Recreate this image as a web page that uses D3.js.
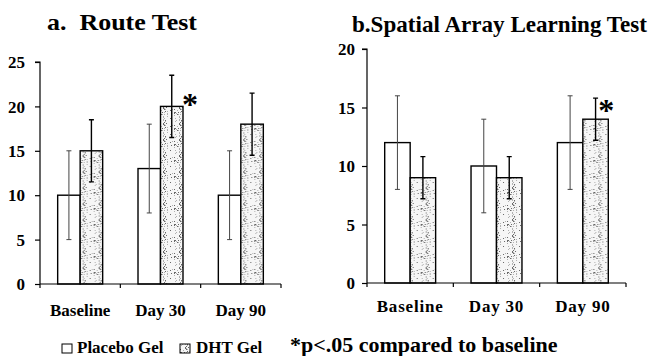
<!DOCTYPE html>
<html><head><meta charset="utf-8">
<script src="https://cdn.jsdelivr.net/npm/d3@7"></script>
</head><body style="margin:0;background:#fff">
<svg id="c" width="652" height="356"></svg>
<script>
// ---------- data ----------
const categories = ["Baseline", "Day 30", "Day 90"];
const seriesNames = ["Placebo Gel", "DHT Gel"];

const routePlacebo    = [10, 13, 10];
const routePlaceboErr = [5, 5, 5];
const routeDHT        = [15, 20, 18];
const routeDHTErr     = [3.5, 3.5, 3.5];
const routeSig        = [false, true, false];
const routeTicks      = [0, 5, 10, 15, 20, 25];

const salPlacebo    = [12, 10, 12];
const salPlaceboErr = [4, 4, 4];
const salDHT        = [9, 9, 14];
const salDHTErr     = [1.8, 1.8, 1.8];
const salSig        = [false, false, true];
const salTicks      = [0, 5, 10, 15, 20];

const titles = ["a.  Route Test", "b.Spatial Array Learning Test"];
const footnote = "*p<.05 compared to baseline";

// ---------- drawing ----------
const FONT = '"Liberation Serif"';
const svg = d3.select("#c");
function txt(sel, size){
  return sel.attr("font-family", null).style("font-family", FONT).style("font-weight","bold").style("font-size", size+"px").attr("fill","#000");
}
const defs = svg.append("defs");

// stipple texture (style only)
const pat = defs.append("pattern").attr("id","stip").attr("patternUnits","userSpaceOnUse")
  .attr("width",16).attr("height",16);
pat.append("rect").attr("width",16).attr("height",16).attr("fill","#f6f6f6");
let seed = 11;
function lcg(){ seed = (seed*1103515245 + 12345) % 2147483648; return seed/2147483648; }
for (let i=0;i<40;i++){
  pat.append("rect").attr("x",Math.floor(lcg()*16)).attr("y",Math.floor(lcg()*16))
    .attr("width",1).attr("height",1).attr("fill", lcg()<0.45 ? "#666" : "#b0b0b0");
}

function chart(cfg){
  const g = svg.append("g");
  const x = d3.scaleBand().domain(categories).range([cfg.x0, cfg.x1]).paddingInner(cfg.pad).paddingOuter(cfg.pad/2);
  const xs = d3.scaleBand().domain(seriesNames).range([0, x.bandwidth()]);
  const y = d3.scaleLinear().domain([0, cfg.max]).range([cfg.yb, cfg.yt]);

  // y axis
  const ya = g.append("g").attr("transform",`translate(${cfg.x0},0)`)
    .call(d3.axisLeft(y).tickValues(cfg.ticks).tickSize(5).tickPadding(cfg.tp).tickFormat(d3.format("d")));
  ya.attr("font-family", null).attr("font-size", null);
  ya.select(".domain").attr("stroke","#000").attr("stroke-width",1.2).attr("d",`M-5,${cfg.yt}H0V${cfg.yb}`);
  ya.selectAll(".tick line").attr("stroke","#000").attr("stroke-width",1.2);
  txt(ya.selectAll(".tick text"), 17).attr("dy","0.34em");

  // bars
  const data = categories.map((c,i)=>({c, vals:[
    {s:seriesNames[0], v:cfg.placebo[i], e:cfg.placeboErr[i]},
    {s:seriesNames[1], v:cfg.dht[i], e:cfg.dhtErr[i], sig:cfg.sig[i]}]}));
  const grp = g.selectAll(".grp").data(data).join("g").attr("transform",d=>`translate(${x(d.c)},0)`);
  grp.selectAll("rect").data(d=>d.vals).join("rect")
    .attr("x",d=>xs(d.s)).attr("y",d=>y(d.v)).attr("width",xs.bandwidth()).attr("height",d=>y(0)-y(d.v))
    .attr("fill",(d,i)=> i===0 ? "#fff" : "url(#stip)")
    .attr("stroke","#000").attr("stroke-width",1.4);
  // error bars
  const eb = grp.selectAll(".eb").data(d=>d.vals).join("g");
  eb.append("path")
    .attr("d",d=>{const cx=xs(d.s)+xs.bandwidth()/2, t=y(d.v+d.e), b=y(d.v-d.e);
      return `M${cx},${t}V${b}M${cx-2.5},${t}H${cx+2.5}M${cx-2.5},${b}H${cx+2.5}`;})
    .attr("fill","none").attr("stroke",(d,i)=> i===0 ? "#444" : "#000").attr("stroke-width",(d,i)=> i===0?1:1.4);
  // significance asterisk
  txt(eb.filter(d=>d.sig).append("text")
    .attr("x",d=>xs(d.s)+xs.bandwidth()+cfg.ax).attr("y",d=>y(d.v)+cfg.ay)
    .attr("text-anchor","middle"), 32).text("*");

  // x axis
  g.append("path").attr("d",`M${cfg.x0},${cfg.yb}H${cfg.x1}`).attr("stroke","#000").attr("stroke-width",1.2);
  const bounds = categories.map(c=>x(c)-x.step()*x.paddingInner()/2).concat([cfg.x1]);
  g.selectAll(".xt").data(bounds).join("path").attr("d",d=>`M${d},${cfg.yb}v4`).attr("stroke","#000").attr("stroke-width",1.2);
  txt(g.selectAll(".xl").data(categories).join("text")
    .attr("x",d=>x(d)+x.bandwidth()/2).attr("y",cfg.lb).attr("text-anchor","middle"), 17)
    .style("letter-spacing",cfg.ls+"px").text(d=>d);

  // title
  txt(g.append("text").attr("x",cfg.tx).attr("y",cfg.ty), cfg.tfs)
    .attr("textLength",cfg.tl).attr("lengthAdjust","spacingAndGlyphs").style("white-space","pre").text(cfg.title);
}

chart({x0:40, x1:281, yb:284, yt:62, max:25, ticks:routeTicks, tp:10, pad:0.44,
  placebo:routePlacebo, placeboErr:routePlaceboErr, dht:routeDHT, dhtErr:routeDHTErr, sig:routeSig,
  ax:7, ay:9, lb:316, ls:0, title:titles[0], tx:47, ty:30, tfs:23, tl:150});
chart({x0:367, x1:626, yb:283, yt:49, max:20, ticks:salTicks, tp:7, pad:0.41,
  placebo:salPlacebo, placeboErr:salPlaceboErr, dht:salDHT, dhtErr:salDHTErr, sig:salSig,
  ax:-2, ay:2, lb:312, ls:0.8, title:titles[1], tx:352, ty:32, tfs:22.8, tl:295});

// legend
const lg = svg.append("g");
lg.append("rect").attr("x",62).attr("y",344).attr("width",10).attr("height",9).attr("fill","#fff").attr("stroke","#000").attr("stroke-width",1);
txt(lg.append("text").attr("x",77).attr("y",353), 17).text(seriesNames[0]);
lg.append("rect").attr("x",180).attr("y",344).attr("width",10).attr("height",9).attr("fill","url(#stip)").attr("stroke","#000").attr("stroke-width",1);
txt(lg.append("text").attr("x",196).attr("y",353), 17).text(seriesNames[1]);
txt(lg.append("text").attr("x",290).attr("y",352), 22).text(footnote);
</script>
</body></html>
